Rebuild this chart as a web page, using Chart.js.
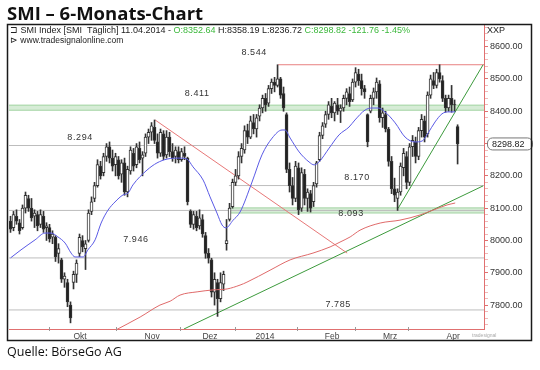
<!DOCTYPE html>
<html>
<head>
<meta charset="utf-8">
<script src="https://cdn.jsdelivr.net/npm/chart.js@4.4.1/dist/chart.umd.min.js"></script>
<style>
  html, body { margin: 0; padding: 0; background: #fff; }
  #wrap { position: relative; width: 540px; height: 370px; overflow: hidden; }
  #chart { position: absolute; left: 0; top: 0; }
  #title { position: absolute; left: 7px; top: 4px; font: bold 18.5px/18px "Open Sans"; color: #111; white-space: nowrap; }
  #source { position: absolute; left: 7px; top: 345px; font: 12.5px/13px "Open Sans"; color: #111; white-space: nowrap; }
</style>
</head>
<body>
<div id="wrap">
  <canvas id="chart" width="540" height="370"></canvas>
  <div id="title">SMI – 6-Monats-Chart</div>
  <div id="source">Quelle: BörseGo AG</div>
</div>
<script>
// daily bars, one entry per trading day (mid Sep 2013 .. 11.04.2014)
const opens = [
  8060, 8040, 8075, 8055, 8040, 8100, 8130, 8100, 8075, 8080, 8050, 8075, 8040, 8040, 8010, 8010, 7960, 7940, 7880, 7870,
  7800, 7870, 7895, 7960, 8000, 7975, 8000, 8090, 8130, 8170, 8230, 8210, 8260, 8290, 8255, 8235, 8250, 8205, 8240, 8150,
  8215, 8270, 8235, 8285, 8255, 8270, 8320, 8335, 8350, 8305, 8270, 8330, 8265, 8320, 8275, 8260, 8275, 8250, 8270, 8255,
  8090, 8050, 8075, 8045, 8065, 8015, 7960, 7940, 7840, 7870, 7820, 7865, 7990, 8065, 8105, 8180, 8200, 8260, 8280, 8340,
  8320, 8365, 8345, 8385, 8410, 8440, 8425, 8470, 8490, 8480, 8500, 8455, 8390, 8220, 8170, 8130, 8225, 8100, 8205, 8130,
  8145, 8120, 8175, 8250, 8325, 8360, 8390, 8415, 8395, 8420, 8400, 8410, 8440, 8455, 8435, 8490, 8515, 8495, 8470, 8390,
  8400, 8440, 8460, 8485, 8380, 8390, 8345, 8245, 8160, 8130, 8150, 8225, 8260, 8180, 8290, 8305, 8260, 8340, 8370, 8330,
  8450, 8495, 8480, 8520, 8495, 8440, 8410, 8440, 8421, 8352.64
];
const highs = [
  8075, 8090, 8095, 8065, 8110, 8150, 8140, 8130, 8095, 8090, 8095, 8090, 8055, 8050, 8030, 8015, 7990, 7945, 7900, 7880,
  7810, 7905, 7940, 8020, 8015, 8000, 8095, 8135, 8180, 8250, 8245, 8270, 8300, 8305, 8280, 8270, 8260, 8250, 8255, 8230,
  8290, 8285, 8300, 8305, 8275, 8330, 8345, 8365, 8373, 8330, 8345, 8340, 8340, 8335, 8300, 8290, 8290, 8285, 8290, 8258,
  8095, 8090, 8090, 8095, 8080, 8025, 7975, 7945, 7900, 7880, 7900, 7905, 8065, 8115, 8190, 8220, 8275, 8300, 8355, 8360,
  8385, 8390, 8390, 8420, 8450, 8455, 8480, 8500, 8505, 8544, 8505, 8475, 8395, 8240, 8195, 8245, 8240, 8225, 8220, 8160,
  8155, 8180, 8245, 8335, 8365, 8400, 8430, 8440, 8430, 8440, 8420, 8450, 8470, 8475, 8500, 8535, 8530, 8515, 8480, 8392,
  8450, 8472, 8503, 8495, 8410, 8400, 8350, 8260, 8193, 8160, 8240, 8285, 8275, 8300, 8325, 8320, 8350, 8390, 8385, 8460,
  8512, 8520, 8530, 8544, 8510, 8450, 8450, 8480, 8435, 8358.19
];
const lows = [
  8025, 8030, 8050, 8020, 8035, 8085, 8090, 8060, 8040, 8030, 8040, 8025, 8000, 7995, 7990, 7935, 7930, 7870, 7855, 7795,
  7745, 7850, 7870, 7950, 7965, 7910, 7995, 8080, 8120, 8165, 8190, 8200, 8245, 8240, 8215, 8200, 8190, 8180, 8140, 8135,
  8205, 8215, 8225, 8240, 8200, 8260, 8300, 8310, 8300, 8255, 8260, 8250, 8255, 8260, 8245, 8240, 8240, 8245, 8250, 8110,
  8040, 8035, 8030, 8035, 8010, 7945, 7930, 7825, 7800, 7765, 7810, 7845, 7970, 8060, 8100, 8170, 8190, 8240, 8270, 8300,
  8315, 8330, 8320, 8370, 8395, 8400, 8415, 8455, 8460, 8475, 8440, 8400, 8210, 8150, 8110, 8120, 8080, 8090, 8110, 8090,
  8088, 8105, 8165, 8245, 8315, 8350, 8375, 8380, 8370, 8390, 8365, 8400, 8420, 8415, 8430, 8475, 8480, 8450, 8440, 8290,
  8395, 8420, 8440, 8366, 8350, 8336, 8230, 8145, 8120, 8093, 8140, 8200, 8160, 8170, 8260, 8240, 8250, 8320, 8305, 8320,
  8440, 8470, 8472, 8490, 8430, 8397, 8400, 8397, 8400, 8236.72
];
const closes = [
  8035, 8080, 8060, 8030, 8100, 8140, 8100, 8070, 8085, 8045, 8080, 8035, 8045, 8005, 8020, 7950, 7975, 7880, 7890, 7810,
  7760, 7895, 7930, 8010, 7980, 7990, 8085, 8120, 8170, 8235, 8200, 8260, 8290, 8255, 8230, 8260, 8200, 8240, 8150, 8220,
  8280, 8230, 8290, 8250, 8265, 8320, 8335, 8355, 8310, 8270, 8335, 8260, 8320, 8275, 8255, 8280, 8250, 8275, 8260, 8120,
  8050, 8080, 8040, 8070, 8020, 7960, 7945, 7840, 7880, 7820, 7870, 7895, 8000, 8100, 8180, 8200, 8260, 8285, 8340, 8320,
  8370, 8345, 8380, 8410, 8440, 8420, 8470, 8490, 8480, 8500, 8450, 8410, 8220, 8170, 8130, 8230, 8095, 8210, 8130, 8150,
  8100, 8170, 8240, 8325, 8355, 8390, 8420, 8395, 8425, 8400, 8410, 8440, 8460, 8430, 8490, 8520, 8495, 8470, 8460, 8305,
  8440, 8460, 8490, 8380, 8395, 8345, 8245, 8160, 8140, 8150, 8230, 8270, 8180, 8290, 8310, 8260, 8340, 8375, 8320, 8450,
  8500, 8480, 8520, 8500, 8440, 8410, 8440, 8420, 8420.58, 8298.82
];

// moving averages (bar index, value)
const blueMaIdx = [0, 3.5, 8.2, 11.5, 13.5, 15.8, 18.2, 20.2, 21.5, 24.2, 25.8, 28.2, 30.2, 32.5, 34.8, 37.5, 39.2, 40.8, 45.5, 48.8,
  52.2, 56.5, 58.8, 60.8, 64.2, 66.5, 68.8, 70.5, 71.8, 74.2, 76.5, 80.5, 83.8, 87.2, 90.5, 91.5, 93.2, 96.2, 99.5, 101.2,
  102.8, 106.2, 109.5, 112.8, 114.8, 118.2, 120.5, 122.5, 124.8, 128.2, 131.5, 134.8, 137.2, 139.2, 141.5, 143.8, 145.8, 148.2];
const blueMaVal = [7946, 7971, 8002, 8023, 8023, 8011, 7992, 7961, 7949, 7949, 7971, 8002, 8054, 8094, 8119, 8141, 8147, 8172, 8218, 8240,
  8252, 8255, 8252, 8228, 8187, 8135, 8085, 8048, 8039, 8063, 8088, 8181, 8265, 8317, 8342, 8342, 8317, 8274, 8243, 8234,
  8243, 8286, 8327, 8351, 8373, 8404, 8410, 8410, 8398, 8364, 8320, 8305, 8308, 8333, 8367, 8392, 8398, 8398];
const redMaIdx = [34.5, 43.2, 49.8, 53.2, 56.5, 62.2, 67.5, 72.2, 76.5, 78.8, 86.5, 93.2, 100.8, 106.5, 109.8, 113.2, 116.5, 123.2,
  129.8, 136.5, 140.8, 145.5, 148.2];
const redMaVal = [7720, 7763, 7800, 7812, 7831, 7841, 7847, 7850, 7862, 7871, 7908, 7940, 7961, 7980, 7995, 8011, 8032, 8054,
  8063, 8079, 8094, 8110, 8116];

// horizontal levels
const levelValues = [8544, 8411, 8294, 8170, 8093, 7946, 7785];
const levelLabels = ['8.544', '8.411', '8.294', '8.170', '8.093', '7.946', '7.785'];
const greyLevels = [8294, 8170, 8093, 7946, 7785];
const greyStarts = [-0.5, 72.8, -0.5, -0.5, -0.5];
const bandLevels = [8411, 8093];
const bandStarts = [-0.5, 73];
const resistLevel = 8544;
const resistStart = 89.2;

// trend lines (bar index, value)
const downTrend = [[48.2, 8373], [112.2, 7961]];
const longUpTrend = [[57.8, 7726], [157.5, 8169]];
const steepUpTrend = [[129.2, 8100], [157.5, 8544]];

// axes
const monthLabels = ['Okt', 'Nov', 'Dez', '2014', 'Feb', 'Mrz', 'Apr'];
const monthMid = [23.2, 47.2, 66.5, 84.8, 107.2, 126.5, 147.5];
const monthBounds = [12.8, 35.2, 56.5, 74.8, 95.5, 114.8, 132.5];
const yTickValues = [7800, 7900, 8000, 8100, 8200, 8300, 8400, 8500, 8600];

// label placement for the level texts (bar index, pixel offset)
const labelAt = [81.2, 62.2, 23.2, 115.5, 113.5, 41.8, 109.2];
const labelDy = [-12, -14, -7.5, -8, 3, -18, -5];

const X_MAX = 157.8;
const last = closes.length - 1;
const days = closes.map((_, i) => i);

const pts = (a) => a.map(p => ({ x: p[0], y: p[1] }));
const hline = (v, from) => [{ x: from, y: v }, { x: X_MAX, y: v }];
const lineDs = (data, color, order, extra) => Object.assign({
  type: 'line', data, borderColor: color, borderWidth: 1, pointRadius: 0, fill: false, order
}, extra || {});

const decor = {
  id: 'decor',
  beforeDraw(chart) {
    const ctx = chart.ctx;
    ctx.save();
    ctx.fillStyle = '#fff';
    ctx.fillRect(0, 0, chart.width, chart.height);
    ctx.restore();
  },
  beforeDatasetsDraw(chart) {
    const { ctx, scales: { x, y }, chartArea: a } = chart;
    ctx.save();
    bandLevels.forEach((v, k) => {
      const x0 = x.getPixelForValue(bandStarts[k]);
      const py = y.getPixelForValue(v);
      ctx.fillStyle = '#d6ecd6';
      ctx.fillRect(x0, py - 3, a.right - x0, 6);
      ctx.strokeStyle = '#a8d6a8';
      ctx.lineWidth = 1;
      ctx.beginPath();
      ctx.moveTo(x0, py - 2.5); ctx.lineTo(a.right, py - 2.5);
      ctx.moveTo(x0, py + 2.5); ctx.lineTo(a.right, py + 2.5);
      ctx.stroke();
    });
    ctx.restore();
  },
  afterDraw(chart) {
    const { ctx, scales: { x, y }, chartArea: a } = chart;
    ctx.save();

    // level labels
    ctx.font = '9px "Liberation Sans"';
    ctx.letterSpacing = '0.6px';
    ctx.fillStyle = '#333';
    ctx.textAlign = 'center';
    ctx.textBaseline = 'middle';
    levelValues.forEach((v, k) => {
      ctx.fillText(levelLabels[k], x.getPixelForValue(labelAt[k]), y.getPixelForValue(v) + labelDy[k]);
    });
    ctx.letterSpacing = '0px';

    // month tick marks
    ctx.strokeStyle = '#999';
    ctx.lineWidth = 1;
    ctx.beginPath();
    monthBounds.forEach(v => {
      const px = Math.round(x.getPixelForValue(v)) + 0.5;
      ctx.moveTo(px, a.bottom - 2); ctx.lineTo(px, a.bottom + 2);
    });
    ctx.stroke();

    // header
    ctx.textAlign = 'left';
    ctx.textBaseline = 'alphabetic';
    ctx.font = '9px "Liberation Sans"';
    const head = [
      ['\u2290 SMI Index [SMI  Täglich] 11.04.2014 - ', '#222'],
      ['O:8352.64', '#3cb83c'],
      [' H:8358.19 L:8236.72 ', '#222'],
      ['C:8298.82 -121.76 -1.45%', '#3cb83c']
    ];
    let hx = 10;
    head.forEach(([t, c]) => { ctx.fillStyle = c; ctx.fillText(t, hx, 33); hx += ctx.measureText(t).width; });
    ctx.fillStyle = '#222';
    ctx.font = '8.5px "Liberation Sans"';
    ctx.fillText('\u22b3 www.tradesignalonline.com', 10, 43);
    ctx.font = '9px "Liberation Sans"';
    ctx.fillText('XXP', a.right + 3, 33);

    // last price box
    const py = y.getPixelForValue(closes[last]);
    ctx.fillStyle = '#fff';
    ctx.strokeStyle = '#777';
    ctx.beginPath();
    ctx.roundRect(a.right + 3.5, py - 6, 45, 12, 5);
    ctx.fill();
    ctx.stroke();
    ctx.fillStyle = '#222';
    ctx.textBaseline = 'middle';
    ctx.fillText(closes[last].toFixed(2), a.right + 8, py + 0.5);

    // tiny logo
    ctx.font = '5px "Liberation Sans"';
    ctx.fillStyle = '#aaa';
    ctx.fillText('tradesignal', a.right - 12, a.bottom + 7);

    // frame
    ctx.strokeStyle = '#1a1a1a';
    ctx.lineWidth = 1.5;
    ctx.strokeRect(7.5, 24.5, 524, 316);
    ctx.restore();
  }
};

new Chart(document.getElementById('chart'), {
  type: 'bar',
  data: {
    datasets: [
      lineDs(blueMaIdx.map((v, k) => ({ x: v, y: blueMaVal[k] })), '#5a5ae6', 0, { cubicInterpolationMode: 'monotone' }),
      lineDs(redMaIdx.map((v, k) => ({ x: v, y: redMaVal[k] })), '#e06a6a', 0, { cubicInterpolationMode: 'monotone' }),
      {
        type: 'bar',
        data: days.map(i => ({ x: i, y: [opens[i], closes[i]] })),
        backgroundColor: days.map(i => closes[i] >= opens[i] ? '#fff' : '#222'),
        borderColor: '#333',
        borderWidth: 1,
        borderSkipped: false,
        barThickness: 3,
        grouped: false,
        order: 1
      },
      {
        type: 'bar',
        data: days.map(i => ({ x: i, y: [lows[i], highs[i]] })),
        backgroundColor: '#333',
        barThickness: 1,
        grouped: false,
        order: 2
      },
      lineDs(pts(downTrend), '#e87878', 3),
      lineDs(pts(longUpTrend), '#3c9a3c', 3),
      lineDs(pts(steepUpTrend), '#3c9a3c', 3),
      lineDs(hline(resistLevel, resistStart), '#e88080', 4),
      ...greyLevels.map((v, k) => lineDs(hline(v, greyStarts[k]), '#bdbdbd', 5))
    ]
  },
  options: {
    responsive: false,
    animation: false,
    devicePixelRatio: 1,
    layout: { padding: { left: 9, top: 25, right: 0, bottom: 0 } },
    plugins: { legend: { display: false }, tooltip: { enabled: false } },
    scales: {
      x: {
        type: 'linear',
        min: -0.5,
        max: X_MAX,
        offset: false,
        grid: { display: false, drawTicks: false },
        border: { color: '#e07070', width: 1 },
        afterBuildTicks: s => { s.ticks = monthMid.map(v => ({ value: v })); },
        ticks: {
          autoSkip: false, maxRotation: 0, padding: 3, color: '#444',
          font: { family: 'Liberation Sans', size: 8.5 },
          callback: (v, i) => monthLabels[i]
        },
        afterFit: s => { s.height = 41; }
      },
      y: {
        position: 'right',
        min: 7726,
        max: 8667,
        afterBuildTicks: s => {
          const t = [];
          for (let v = 7740; v <= 8660; v += 20) t.push({ value: v });
          s.ticks = t;
        },
        grid: {
          drawOnChartArea: false, drawTicks: true, tickLength: 4,
          tickColor: '#e07070',
          tickWidth: c => (c.tick && yTickValues.includes(c.tick.value)) ? 1 : 0.5
        },
        border: { color: '#e07070', width: 1 },
        ticks: {
          autoSkip: false, padding: 2, color: '#333',
          font: { family: 'Liberation Sans', size: 9 },
          callback: v => (yTickValues.includes(v) && v !== 8300) ? v.toFixed(2) : ''
        },
        afterFit: s => { s.width = 56; }
      }
    }
  },
  plugins: [decor]
});
</script>
</body>
</html>
